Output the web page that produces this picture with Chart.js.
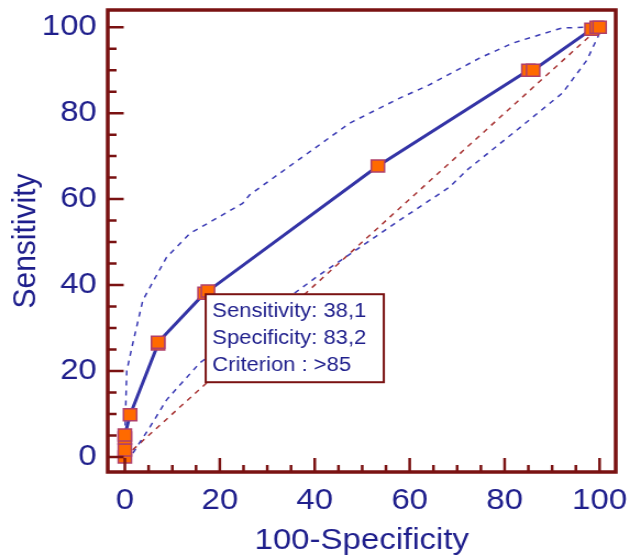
<!DOCTYPE html>
<html>
<head>
<meta charset="utf-8">
<title>ROC curve</title>
<script src="https://cdn.jsdelivr.net/npm/chart.js@4.4.1/dist/chart.umd.min.js"></script>
<style>
  html, body { margin: 0; padding: 0; background: #fff; overflow: hidden; }
  /* the source picture is stretched a little sideways, so the chart is too (573 -> 630) */
  #wrap { width: 573px; height: 560px; transform: scaleX(1.0995); transform-origin: 0 0; }
</style>
</head>
<body>
<div id="wrap"><canvas id="roc" width="573" height="560"></canvas></div>
<script>
'use strict';

// ROC points (100-Specificity, Sensitivity)
const rocX = [0, 0, 0, 0, 1.1, 7, 7, 16.8, 17.5, 53.3, 85, 86, 98.3, 99.4, 100];
const rocY = [0, 1.6, 4.4, 5.1, 9.8, 26.3, 26.7, 38.1, 38.6, 67.7, 90, 90, 99.5, 100, 100];

// 95% confidence bounds
const upperX = [0, 0.4, 1.5, 3.8, 8.8, 13.7, 24.8, 26.3, 47.4, 57.9, 64, 74.7, 81.7, 92, 97, 100];
const upperY = [5, 20, 25.6, 36.5, 46.5, 52, 59, 61, 77.7, 83.5, 86.5, 92.8, 96.3, 99.8, 100, 100];
const lowerX = [1.7, 5.3, 8.8, 15.8, 40.4, 57.9, 68.4, 72, 82.5, 92.2, 97.3, 100, 100];
const lowerY = [0.9, 7, 13.3, 21.9, 41.9, 55.1, 62.8, 66.7, 76, 84.7, 92.3, 98.6, 100];

// chance line
const diagX = [0, 100];
const diagY = [0, 100];

const xTicks = [0, 20, 40, 60, 80, 100];
const yTicks = [0, 20, 40, 60, 80, 100];
const minorStep = 5;

// selected cut-off and its label
const cutoff = [16.8, 38.1];
const noteLines = ['Sensitivity: 38,1', 'Specificity: 83,2', 'Criterion : >85'];

const axisColor = '#7a1212';
const textColor = '#1f1f8c';

function toPoints(xs, ys) {
  let pts = [];
  for (let i = 0; i < xs.length; i++) {
    pts.push({ x: xs[i], y: ys[i] });
  }
  return pts;
}

//frame with inward ticks, like the original
const framePlugin = {
  id: 'frame',
  afterDraw(chart) {
    const ctx = chart.ctx;
    const a = chart.chartArea;
    const xs = chart.scales.x;
    const ys = chart.scales.y;
    ctx.save();
    ctx.strokeStyle = axisColor;
    ctx.lineWidth = 3.5;
    ctx.strokeRect(a.left, a.top, a.right - a.left, a.bottom - a.top);
    ctx.lineWidth = 2.5;
    ctx.beginPath();
    for (let v = 0; v <= 100; v += minorStep) {
      let major = v % 20 === 0;
      let px = xs.getPixelForValue(v);
      ctx.moveTo(px, a.bottom);
      ctx.lineTo(px, a.bottom - (major ? 14 : 7));
      let py = ys.getPixelForValue(v);
      ctx.moveTo(a.left, py);
      ctx.lineTo(a.left + (major ? 14.5 : 8), py);
    }
    ctx.stroke();
    ctx.restore();
  }
};

//label box hanging off the cut-off point
const notePlugin = {
  id: 'note',
  afterDraw(chart) {
    const ctx = chart.ctx;
    const left = chart.scales.x.getPixelForValue(cutoff[0]) + 1;
    const top = chart.scales.y.getPixelForValue(cutoff[1]) + 1;
    ctx.save();
    ctx.fillStyle = '#fff';
    ctx.fillRect(left, top, 162, 88);
    ctx.strokeStyle = axisColor;
    ctx.lineWidth = 2;
    ctx.strokeRect(left, top, 162, 88);
    ctx.fillStyle = textColor;
    ctx.font = '20px "Liberation Sans", Arial, sans-serif';
    ctx.textBaseline = 'alphabetic';
    for (let i = 0; i < noteLines.length; i++) {
      ctx.fillText(noteLines[i], left + 6, top + 23 + i * 27);
    }
    ctx.restore();
  }
};

Chart.defaults.font.family = '"Liberation Sans", Arial, sans-serif';

const ctx = document.getElementById('roc').getContext('2d');
const rocChart = new Chart(ctx, {
  type: 'scatter',
  data: {
    datasets: [
      {
        label: 'ROC',
        data: toPoints(rocX, rocY),
        showLine: true,
        borderColor: '#3434a6',
        borderWidth: 3,
        pointStyle: 'rect',
        pointRadius: 8.5,
        pointBackgroundColor: '#ff6a00',
        pointBorderColor: '#b0406a',
        pointBorderWidth: 1.5
      },
      {
        label: 'upper',
        data: toPoints(upperX, upperY),
        showLine: true,
        borderColor: '#3a3ab4',
        borderWidth: 1.5,
        borderDash: [5, 5],
        pointRadius: 0
      },
      {
        label: 'lower',
        data: toPoints(lowerX, lowerY),
        showLine: true,
        borderColor: '#3a3ab4',
        borderWidth: 1.5,
        borderDash: [5, 5],
        pointRadius: 0
      },
      {
        label: 'chance',
        data: toPoints(diagX, diagY),
        showLine: true,
        borderColor: '#a83434',
        borderWidth: 1.5,
        borderDash: [5, 5],
        pointRadius: 0
      }
    ]
  },
  options: {
    responsive: false,
    animation: false,
    layout: {
      autoPadding: false,
      padding: { top: 10, right: 13, left: 0, bottom: 0 }
    },
    plugins: {
      legend: { display: false },
      tooltip: { enabled: false }
    },
    scales: {
      x: {
        type: 'linear',
        min: -3.6,
        max: 103.4,
        afterBuildTicks: function (scale) {
          scale.ticks = xTicks.map(v => ({ value: v }));
        },
        afterFit: function (scale) {
          scale.height = 88;
          scale.paddingLeft = 0;
          scale.paddingRight = 0;
        },
        grid: { display: false, drawTicks: false },
        border: { display: false },
        ticks: {
          autoSkip: false,
          maxRotation: 0,
          padding: 11,
          color: textColor,
          font: { size: 30 }
        },
        title: {
          display: true,
          text: '100-Specificity',
          color: textColor,
          font: { size: 30 },
          padding: { top: 0, bottom: 1 }
        }
      },
      y: {
        type: 'linear',
        min: -3.5,
        max: 104,
        afterBuildTicks: function (scale) {
          scale.ticks = yTicks.map(v => ({ value: v }));
        },
        afterFit: function (scale) {
          scale.width = 98;
          scale.paddingTop = 0;
          scale.paddingBottom = 0;
        },
        grid: { display: false, drawTicks: false },
        border: { display: false },
        ticks: {
          autoSkip: false,
          padding: 10,
          color: textColor,
          font: { size: 30 }
        },
        title: {
          display: true,
          text: 'Sensitivity',
          color: textColor,
          font: { size: 30 },
          padding: { top: 6, bottom: 0 }
        }
      }
    }
  },
  plugins: [framePlugin, notePlugin]
});
</script>
</body>
</html>
